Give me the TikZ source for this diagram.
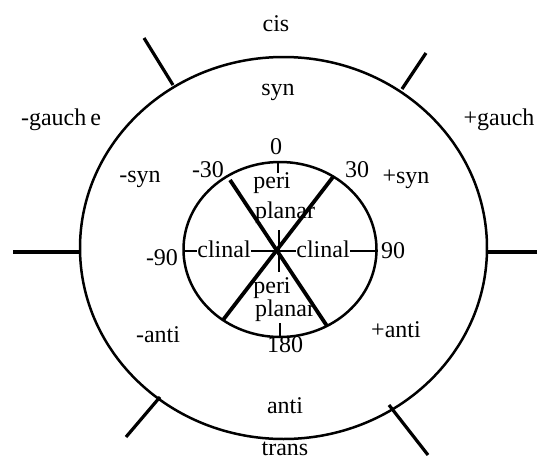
\documentclass[tikz,border=0pt]{standalone}
\usepackage{fontspec}
\setmainfont{Liberation Serif}
\begin{document}
\begin{tikzpicture}[x=1pt,y=-1pt,
  lbl/.style={anchor=base,inner sep=0pt,font=\fontsize{24}{28}\selectfont},
  rim/.style={line width=2.5pt},
  tickline/.style={line width=3.2pt},
  bar/.style={line width=3.8pt},
  hair/.style={line width=2pt}]
\useasboundingbox (0,0) rectangle (539,461);
% ellipses
\draw[rim] (283.5,248) ellipse [x radius=203.5, y radius=191];
\draw[rim] (280,249.5) ellipse [x radius=96.5, y radius=87.5];
% outer ticks
\coordinate (ulA) at (144,38);  \coordinate (ulB) at (173,85);
\coordinate (urA) at (426,53);  \coordinate (urB) at (402,89);
\coordinate (lA) at (13,252);   \coordinate (lB) at (81,252);
\coordinate (rA) at (537,252);  \coordinate (rB) at (486,252);
\coordinate (llA) at (126,437); \coordinate (llB) at (160,397);
\coordinate (lrA) at (428,455); \coordinate (lrB) at (389,405);
\draw[tickline] (ulA) -- (ulB);
\draw[tickline] (urA) -- (urB);
\draw[tickline] (lA) -- (lB);
\draw[tickline] (rA) -- (rB);
\draw[tickline] (llA) -- (llB);
\draw[tickline] (lrA) -- (lrB);
% inner diagonals
\coordinate (dUL) at (230,180); \coordinate (dLR) at (327,326);
\coordinate (dUR) at (333,177); \coordinate (dLL) at (223,320);
\draw[bar] (dUL) -- (dLR);
\draw[bar] (dUR) -- (dLL);
% small vertical ticks
\coordinate (tTop) at (278,162); \coordinate (tTopE) at (278,173);
\coordinate (cA) at (279,230); \coordinate (cB) at (279,272);
\coordinate (tBot) at (280,337); \coordinate (tBotE) at (280,323);
\draw[hair] (tTop) -- (tTopE);
\draw[hair] (cA) -- (cB);
\draw[hair] (tBot) -- (tBotE);
% horizontal line
\coordinate (hL) at (183,251); \coordinate (hR) at (378,251);
\draw[hair] (hL) -- (hR);
% labels
\node[lbl] (cis) at (276,31) {cis};
\node[lbl] (syn) at (278,95) {syn};
\node[lbl] (mg) at (61,125) {-gauch\,e};
\node[lbl] (pg) at (499,125) {+gauch};
\node[lbl] (msyn) at (140,182) {-syn};
\node[lbl] (psyn) at (406,183) {+syn};
\node[lbl] (n30) at (357,177) {30};
\node[lbl] (m30) at (208,177) {-30};
\node[lbl] (n0) at (276,154) {0};
\node[lbl] (peri1) at (272,188) {peri};
\node[lbl] (plan1) at (285,218) {planar};
\node[lbl] (m90) at (162,265) {-90};
\node[lbl] (n90) at (393,258) {90};
\node[lbl,fill=white] (clL) at (224,257) {clinal};
\node[lbl,fill=white] (clR) at (323,257) {clinal};
\node[lbl] (peri2) at (272,293) {peri};
\node[lbl] (plan2) at (285,316) {planar};
\node[lbl] (n180) at (285,352) {180};
\node[lbl] (manti) at (158,342) {-anti};
\node[lbl] (panti) at (396,337) {+anti};
\node[lbl] (anti) at (285,413) {anti};
\node[lbl] (trans) at (285,455) {trans};
\end{tikzpicture}
\end{document}
